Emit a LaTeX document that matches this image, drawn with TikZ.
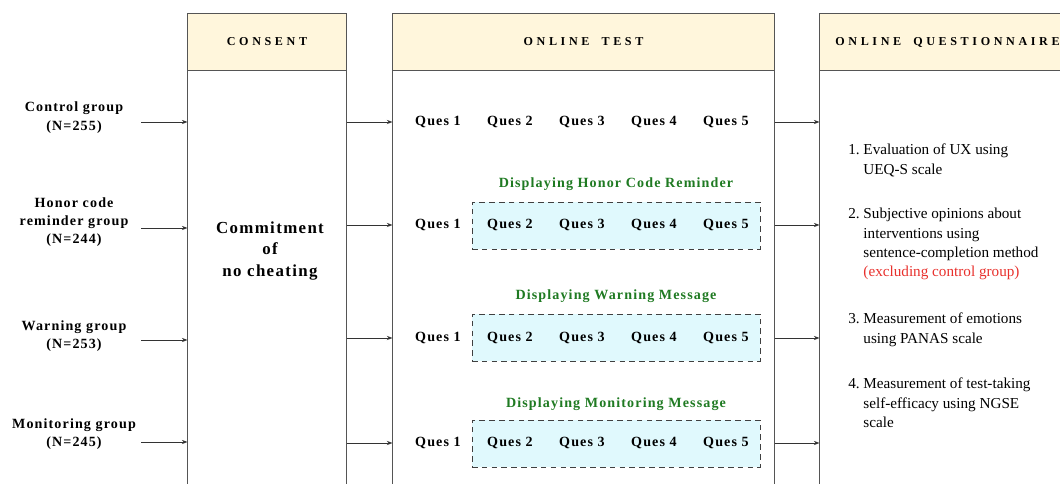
\documentclass[tikz,border=0pt]{standalone}
\usepackage{fontspec}
\setmainfont{Liberation Serif}
\newfontfamily\trackfont[LetterSpace=8]{Liberation Serif}
\newfontfamily\capsfont[LetterSpace=30]{Liberation Serif}
\usetikzlibrary{arrows.meta}

\definecolor{headfill}{HTML}{FFF6DC}
\definecolor{boxline}{HTML}{555555}
\definecolor{dashfill}{HTML}{E0F9FD}
\definecolor{msggreen}{HTML}{1F7A22}
\definecolor{notered}{HTML}{E8302C}

\tikzset{
  head/.style={draw=boxline, line width=0.7pt, fill=headfill, minimum height=1.4cm,
    inner sep=0pt, font=\capsfont\bfseries\fontsize{8.6}{10}\selectfont},
  panel/.style={draw=boxline, line width=0.7pt, minimum height=10.75cm, inner sep=0pt},
  group/.style={align=center, font=\trackfont\bfseries\fontsize{10}{13}\selectfont},
  ques/.style={inner sep=1pt, font=\trackfont\bfseries\fontsize{10}{12}\selectfont},
  msgbox/.style={draw=black!75, dash pattern=on 4pt off 3pt, fill=dashfill,
    line width=0.6pt, minimum width=7.2cm, minimum height=1.175cm},
  msg/.style={text=msggreen, font=\trackfont\bfseries\fontsize{10}{12}\selectfont},
  item/.style={anchor=base west, inner sep=0pt, font=\fontsize{10.8}{13.7}\selectfont},
  flow/.style={draw=black!80, line width=0.7pt, -{Stealth[length=4pt,width=3pt]}}
}

\begin{document}
\begin{tikzpicture}[x=0.025cm, y=-0.025cm]
  \useasboundingbox (0,0) rectangle (1060,484);

  % Columns
  \node[head, minimum width=3.95cm] (consenth) at (267,42) {CONSENT};
  \node[panel, minimum width=3.95cm, anchor=north] (consent) at (consenth.south) {};
  \node[head, minimum width=9.525cm] (testh) at (583.5,42) {ONLINE\hspace{1em}TEST};
  \node[panel, minimum width=9.525cm, anchor=north] (test) at (testh.south) {};
  \node[head, minimum width=6.375cm] (questh) at (947.5,42) {ONLINE\hspace{1em}QUESTIONNAIRE};
  \node[panel, minimum width=6.375cm, anchor=north] (quest) at (questh.south) {};

  % Consent
  \node[align=center, font=\trackfont\bfseries\fontsize{12}{15.5}\selectfont] (commit) at (270,251)
    {Commitment\\of\\no cheating};

  % Groups
  \node[group] (control) at (74,117.5) {Control group\\(N=255)};
  \node[group] (honor) at (74,222) {Honor code\\reminder group\\(N=244)};
  \node[group] (warning) at (74,336) {Warning group\\(N=253)};
  \node[group] (monitor) at (74,434) {Monitoring group\\(N=245)};

  \coordinate (in1) at (141,122);
  \coordinate (in2) at (141,228);
  \coordinate (in3) at (141,340);
  \coordinate (in4) at (141,442);
  \foreach \k in {1,...,4}
    \draw[flow] (in\k) -- (consent.west |- in\k);

  % Interventions
  \node[msgbox] (honorbox) at (616,225.5) {};
  \node[msgbox] (warnbox) at (616,337.5) {};
  \node[msgbox] (monbox) at (616,443.5) {};
  \node[msg] (honormsg) at (616,184) {Displaying Honor Code Reminder};
  \node[msg] (warnmsg) at (616,296) {Displaying Warning Message};
  \node[msg] (monmsg) at (616,404) {Displaying Monitoring Message};

  % Questions
  \foreach \r/\y in {1/122, 2/225, 3/338, 4/443} {
    \foreach \i in {1,...,5}
      \node[ques] (q\r\i) at ({438+72*(\i-1)},\y) {Ques \i};
    \draw[flow] (consent.east |- q\r1) -- (test.west |- q\r1);
    \draw[flow] (test.east |- q\r1) -- (quest.west |- q\r1);
  }

  % Questionnaire
  \node[item] (item1) at (848,155) {\begin{tabular}[t]{@{}l@{\ }l@{}}
    1.&Evaluation of UX using\\&UEQ-S scale\end{tabular}};
  \node[item] (item2) at (848,219) {\begin{tabular}[t]{@{}l@{\ }l@{}}
    2.&Subjective opinions about\\&interventions using\\&sentence-completion method\\
    &\textcolor{notered}{(excluding control group)}\end{tabular}};
  \node[item] (item3) at (848,324) {\begin{tabular}[t]{@{}l@{\ }l@{}}
    3.&Measurement of emotions\\&using PANAS scale\end{tabular}};
  \node[item] (item4) at (848,389) {\begin{tabular}[t]{@{}l@{\ }l@{}}
    4.&Measurement of test-taking\\&self-efficacy using NGSE\\&scale\end{tabular}};
\end{tikzpicture}
\end{document}
